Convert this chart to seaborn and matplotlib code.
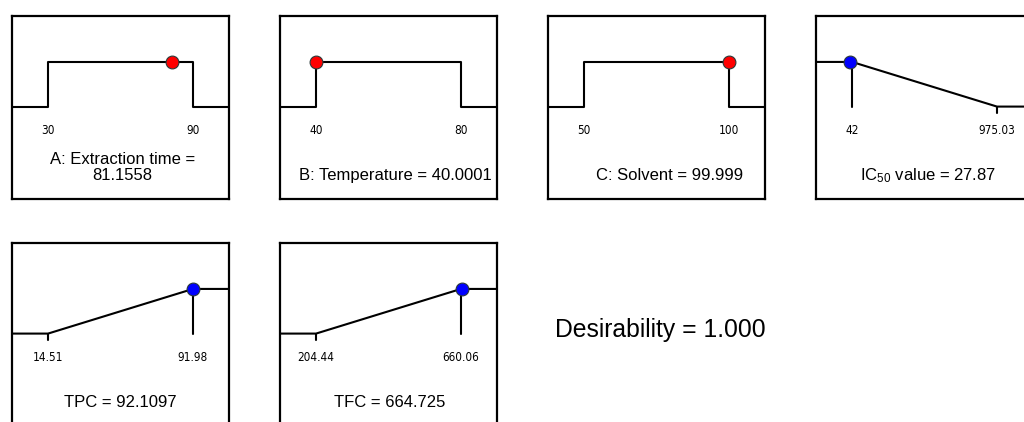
import numpy as np
import pandas as pd
import matplotlib
matplotlib.use("Agg")
import matplotlib.pyplot as plt
import matplotlib.transforms as mtransforms
from matplotlib import font_manager
import seaborn as sns

# Factor settings (range and optimum)
factor_names = ["A: Extraction time", "B: Temperature", "C: Solvent"]
factor_low = [30, 40, 50]
factor_high = [90, 80, 100]
factor_value = [81.1558, 40.0001, 99.999]

# Response goals (range and predicted optimum)
response_names = ["IC$_{50}$ value", "TPC", "TFC"]
response_low = [42, 14.51, 204.44]
response_high = [975.03, 91.98, 660.06]
response_value = [27.87, 92.1097, 664.725]
response_goal = ["minimize", "maximize", "maximize"]

desirability = 1.000

sns.set_style("white")
plt.rcParams["font.family"] = ["Liberation Sans", "DejaVu Sans"]
plt.rcParams["text.color"] = "black"
plt.rcParams["mathtext.fontset"] = "custom"
plt.rcParams["mathtext.rm"] = "Liberation Sans"
plt.rcParams["mathtext.it"] = "Liberation Sans:italic"

W, H = 1024, 422
fig = plt.figure(figsize=(W / 100, H / 100), dpi=100)
fig.patch.set_facecolor("white")

BOX_W, BOX_H = 217, 183
FL, FR = 0.166, 0.834      # axes fractions of range ends
YL, YH = 0.505, 0.749      # axes fractions of low / high level
LW = 1.5

# narrow face for the range labels
_installed = {f.name for f in font_manager.fontManager.ttflist}
if "Liberation Sans Narrow" in _installed:
    TICK_FP = font_manager.FontProperties(family="Liberation Sans Narrow", size=9.5)
else:
    TICK_FP = font_manager.FontProperties(family="DejaVu Sans", stretch="condensed", size=8.5)


def make_box(left, top):
    ax = fig.add_axes([left / W, 1 - (top + BOX_H) / H, BOX_W / W, BOX_H / H])
    ax.set_facecolor("white")
    for sp in ax.spines.values():
        sp.set_visible(True)
        sp.set_color("black")
        sp.set_linewidth(1.6)
    return ax


def set_limits(ax, lo, hi):
    span = (hi - lo) / (FR - FL)
    xmin = lo - FL * span
    yspan = 1.0 / (YH - YL)
    ymin = -YL * yspan
    ax.set_xlim(xmin, xmin + span)
    ax.set_ylim(ymin, ymin + yspan)
    ax.set_xticks([])
    ax.set_yticks([])
    return xmin, xmin + span, yspan


def draw_curve(ax, xs, ys):
    df = pd.DataFrame({"x": xs, "y": ys})
    sns.lineplot(data=df, x="x", y="y", sort=False, estimator=None,
                 color="black", linewidth=LW, ax=ax, zorder=2)


def draw_marker(ax, x, y, color):
    sns.scatterplot(x=[x], y=[y], color=color, s=85, edgecolor="#2b3a3a",
                    linewidth=0.8, ax=ax, zorder=5, clip_on=False)


def range_labels(ax, lo, hi):
    trans = mtransforms.blended_transform_factory(ax.transData, ax.transAxes)
    for v in (lo, hi):
        ax.text(v, 0.377, f"{v:g}", transform=trans, ha="center", va="center",
                fontproperties=TICK_FP, color="black")


# Factor panels: flat-top desirability inside the range
factor_boxes = [(12, 16), (280, 16), (548, 16)]
factor_text_x = [0.51, 0.532, 0.558]
for i, (left, top) in enumerate(factor_boxes):
    ax = make_box(left, top)
    lo, hi, v = factor_low[i], factor_high[i], factor_value[i]
    xmin, xmax, _ = set_limits(ax, lo, hi)
    draw_curve(ax, [xmin, lo, lo, hi, hi, xmax], [0, 0, 1, 1, 0, 0])
    draw_marker(ax, v, 1.0 if lo <= v <= hi else 0.0, "#ff0000")
    range_labels(ax, lo, hi)
    if i == 0:
        ax.text(factor_text_x[i], 0.215, f"{factor_names[i]} =",
                transform=ax.transAxes, ha="center", va="center", fontsize=12)
        ax.text(factor_text_x[i], 0.128, f"{v:g}",
                transform=ax.transAxes, ha="center", va="center", fontsize=12)
    else:
        ax.text(factor_text_x[i], 0.126, f"{factor_names[i]} = {v:g}",
                transform=ax.transAxes, ha="center", va="center", fontsize=12)

# Response panels: ramp desirability between the limits
response_boxes = [(816, 16), (12, 243), (280, 243)]
response_text_x = [0.516, 0.5, 0.507]
for i, (left, top) in enumerate(response_boxes):
    ax = make_box(left, top)
    lo, hi, v = response_low[i], response_high[i], response_value[i]
    xmin, xmax, yspan = set_limits(ax, lo, hi)
    tick_len = 6.0 / BOX_H * yspan
    xs = [xmin, lo, hi, xmax]
    if response_goal[i] == "minimize":
        ys = [1, 1, 0, 0]
        target, other = lo, hi
    else:
        ys = [0, 0, 1, 1]
        target, other = hi, lo
    draw_curve(ax, xs, ys)
    ax.plot([target, target], [1, 0], color="black", linewidth=LW, zorder=2)
    ax.plot([other, other], [0, -tick_len], color="black", linewidth=LW, zorder=2)
    draw_marker(ax, v, float(np.interp(v, xs, ys)), "#0000ff")
    range_labels(ax, lo, hi)
    ax.text(response_text_x[i], 0.126, f"{response_names[i]} = {v:g}",
            transform=ax.transAxes, ha="center", va="center", fontsize=12)

fig.text(555 / W, 1 - 330 / H, f"Desirability = {desirability:.3f}",
         ha="left", va="center", fontsize=17.8)

fig.savefig("out.png", dpi=100, facecolor="white")
